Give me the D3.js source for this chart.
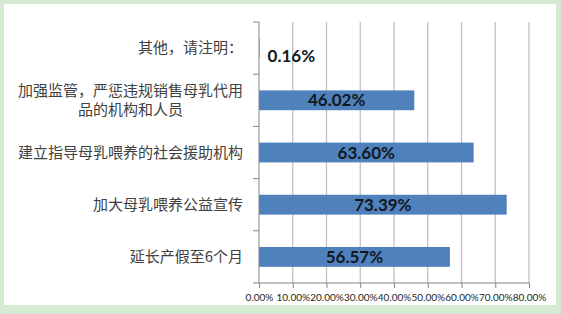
<!DOCTYPE html>
<html>
<head>
<meta charset="utf-8">
<script src="https://cdn.jsdelivr.net/npm/d3@7"></script>
<style>
  body { margin: 0; background: #d5e9d3; }
  svg { display: block; }
</style>
</head>
<body>
<div id="chart"></div>
<script>
// chart data, top to bottom as shown
const categories = [
  "其他，请注明：",
  "加强监管，严惩违规销售母乳代用品的机构和人员",
  "建立指导母乳喂养的社会援助机构",
  "加大母乳喂养公益宣传",
  "延长产假至6个月"
];
const values = [0.16, 46.02, 63.60, 73.39, 56.57];
const xTicks = [0, 10, 20, 30, 40, 50, 60, 70, 80];

const W = 561, H = 314;
const margin = {top: 22, right: 32, bottom: 31, left: 259};
const innerW = W - margin.left - margin.right;
const innerH = H - margin.top - margin.bottom;

const svg = d3.select("#chart").append("svg")
  .attr("width", W)
  .attr("height", H);

// white panel on the green page
svg.append("rect")
  .attr("x", 4).attr("y", 4)
  .attr("width", 552).attr("height", 301)
  .attr("fill", "#fff");

const g = svg.append("g")
  .attr("transform", "translate(" + margin.left + "," + margin.top + ")");

const x = d3.scaleLinear().domain([0, 80]).range([0, 270]);
const y = d3.scaleBand()
  .domain(categories)
  .range([0, innerH])
  .paddingInner(0.62)
  .paddingOuter(0.31);

// vertical gridlines
g.selectAll(".grid")
  .data(xTicks.slice(1))
  .enter().append("line")
  .attr("class", "grid")
  .attr("x1", d => x(d)).attr("x2", d => x(d))
  .attr("y1", 0).attr("y2", innerH)
  .attr("stroke", "#bdbdbd")
  .attr("stroke-width", 1.2);

// bars
g.selectAll(".bar")
  .data(values)
  .enter().append("rect")
  .attr("class", "bar")
  .attr("x", x(0))
  .attr("y", (d, i) => y(categories[i]))
  .attr("width", d => x(d) - x(0))
  .attr("height", y.bandwidth())
  .attr("fill", "#4f81bd");

// value labels: centered in bar, or just right of it when the bar is too short
const fits = d => x(d) - x(0) > 60;
g.selectAll(".val")
  .data(values)
  .enter().append("text")
  .attr("class", "val")
  .attr("x", d => fits(d) ? (x(0) + x(d)) / 2 : x(d) + 8)
  .attr("y", (d, i) => y(categories[i]) + y.bandwidth() / 2 + (fits(d) ? 0 : 8))
  .attr("dy", "0.36em")
  .attr("text-anchor", d => fits(d) ? "middle" : "start")
  .style("font-family", "Lato, 'Liberation Sans', sans-serif")
  .style("font-weight", "bold")
  .style("font-size", "17px")
  .style("fill", "#121821")
  .text(d => d.toFixed(2) + "%");

// x axis
const xAxis = g.append("g")
  .attr("transform", "translate(0," + innerH + ")")
  .call(d3.axisBottom(x).tickValues(xTicks).tickSize(5).tickPadding(6)
    .tickFormat(d => d.toFixed(2) + "%"));
xAxis.select(".domain").attr("stroke", "#868686").attr("d", "M0,0H" + x(80));
xAxis.selectAll(".tick line").attr("stroke", "#868686");
xAxis.selectAll("text")
  .style("font-family", "Lato, 'Liberation Sans', sans-serif")
  .style("font-size", "10px")
  .style("fill", "#262626");

// y axis line with ticks at band boundaries
g.append("line")
  .attr("x1", 0).attr("x2", 0)
  .attr("y1", 0).attr("y2", innerH)
  .attr("stroke", "#868686");
const bounds = categories.map(c => y(c) - y.step() * y.paddingInner() / 2).concat([innerH]);
g.selectAll(".ytick")
  .data(bounds)
  .enter().append("line")
  .attr("class", "ytick")
  .attr("x1", -6).attr("x2", 0)
  .attr("y1", d => d).attr("y2", d => d)
  .attr("stroke", "#868686");

// category labels, wrapped when too long
const maxLabelW = 230;
const labelRight = -16;
categories.forEach((c, i) => {
  const t = g.append("text")
    .style("font-family", "'Noto Sans CJK SC', sans-serif")
    .style("font-size", "15px")
    .style("fill", "#404040");
  const chars = Array.from(c);
  const lines = [];
  let cur = "";
  chars.forEach(ch => {
    t.text(cur + ch);
    if (t.node().getComputedTextLength() > maxLabelW && cur) {
      lines.push(cur);
      cur = ch;
    } else {
      cur += ch;
    }
  });
  lines.push(cur);
  t.text(null);
  const widths = lines.map(l => { t.text(l); return t.node().getComputedTextLength(); });
  t.text(null);
  const blockW = d3.max(widths);
  const lineH = 19;
  const cy = y(c) + y.bandwidth() / 2;
  const y0 = cy - (lines.length - 1) * lineH / 2;
  t.attr("text-anchor", "middle");
  lines.forEach((l, k) => {
    t.append("tspan")
      .attr("x", labelRight - blockW / 2)
      .attr("y", y0 + k * lineH)
      .attr("dy", "0.35em")
      .text(l);
  });
});
</script>
</body>
</html>
